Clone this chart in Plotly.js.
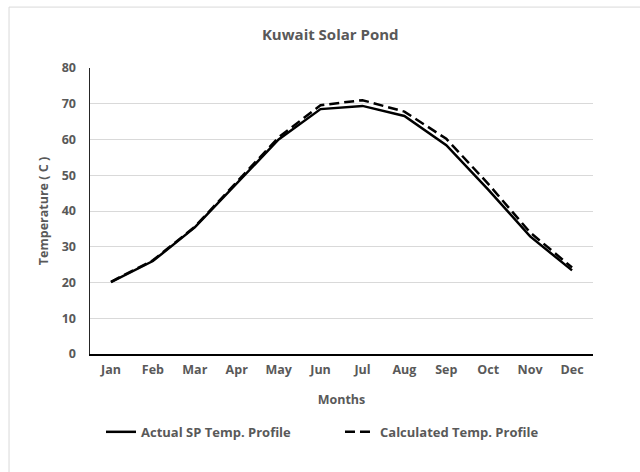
<!DOCTYPE html>
<html><head><meta charset="utf-8">
<script src="https://cdn.plot.ly/plotly-3.0.1.min.js"></script>
<style>html,body{margin:0;padding:0;background:#fff;}#chart{width:640px;height:472px;}</style>
</head><body><div id="chart"></div>
<script>
const months = ["Jan","Feb","Mar","Apr","May","Jun","Jul","Aug","Sep","Oct","Nov","Dec"];
const actualSP = [20.1, 26.0, 35.4, 47.6, 60.0, 68.5, 69.4, 66.6, 58.4, 46.0, 32.9, 23.4];
const calculated = [20.2, 26.2, 35.6, 48.2, 60.6, 69.6, 71.0, 67.8, 60.2, 47.6, 34.0, 24.2];
const yTicks = [0,10,20,30,40,50,60,70,80];

const fontFam = "Open Sans, Noto Sans, sans-serif";
const grey = "#595959";

const traces = [
  {x: months, y: actualSP, type: "scatter", mode: "lines", name: "<b>Actual SP Temp. Profile</b>",
   line: {color: "#000", width: 2.5}},
  {x: months, y: calculated, type: "scatter", mode: "lines", name: "<b>Calculated Temp. Profile</b>",
   line: {color: "#000", width: 2.5, dash: "10px,5px"}}
];

const layout = {
  width: 640, height: 472,
  margin: {l: 90, r: 47, t: 68, b: 118},
  paper_bgcolor: "#fff", plot_bgcolor: "#fff",
  title: {text: "<b>Kuwait Solar Pond</b>", xref: "container", x: 0.516, xanchor: "center",
          yref: "container", y: 0.926, yanchor: "middle",
          font: {family: fontFam, size: 15, color: grey}},
  xaxis: {
    type: "category", range: [-0.5, 11.5], automargin: false, showgrid: false, showline: true, linecolor: "#000", linewidth: 1.5,
    ticks: "", tickfont: {family: fontFam, size: 12.5, color: grey, weight: "bold"}, ticklabelstandoff: 3,
    title: {text: "<b>Months</b>", font: {family: fontFam, size: 12.5, color: grey}, standoff: 18},
    fixedrange: true
  },
  yaxis: {
    range: [0, 80], tickvals: yTicks, automargin: false, showgrid: true, gridcolor: "#d9d9d9", gridwidth: 1,
    showline: true, linecolor: "#262626", linewidth: 1.5, zeroline: false, ticks: "",
    tickfont: {family: fontFam, size: 12.5, color: grey, weight: "bold"}, ticklabelstandoff: 10,
    title: {text: "<b>Temperature ( C )</b>", font: {family: fontFam, size: 12.5, color: grey}, standoff: 10},
    fixedrange: true
  },
  showlegend: true,
  legend: {orientation: "h", x: 0.497, xanchor: "center", yref: "container", y: 0.085, yanchor: "middle",
           font: {family: fontFam, size: 13, color: grey}, entrywidth: 194, entrywidthmode: "pixels",
           traceorder: "normal"},
  shapes: [
    {type: "rect", xref: "paper", yref: "paper", x0: -0.161, x1: 1.2, y0: -0.5, y1: 1.213,
     line: {color: "#d9d9d9", width: 1}, fillcolor: "rgba(0,0,0,0)", layer: "below"}
  ]
};

Plotly.newPlot("chart", traces, layout, {staticPlot: true, displayModeBar: false});
</script></body></html>
